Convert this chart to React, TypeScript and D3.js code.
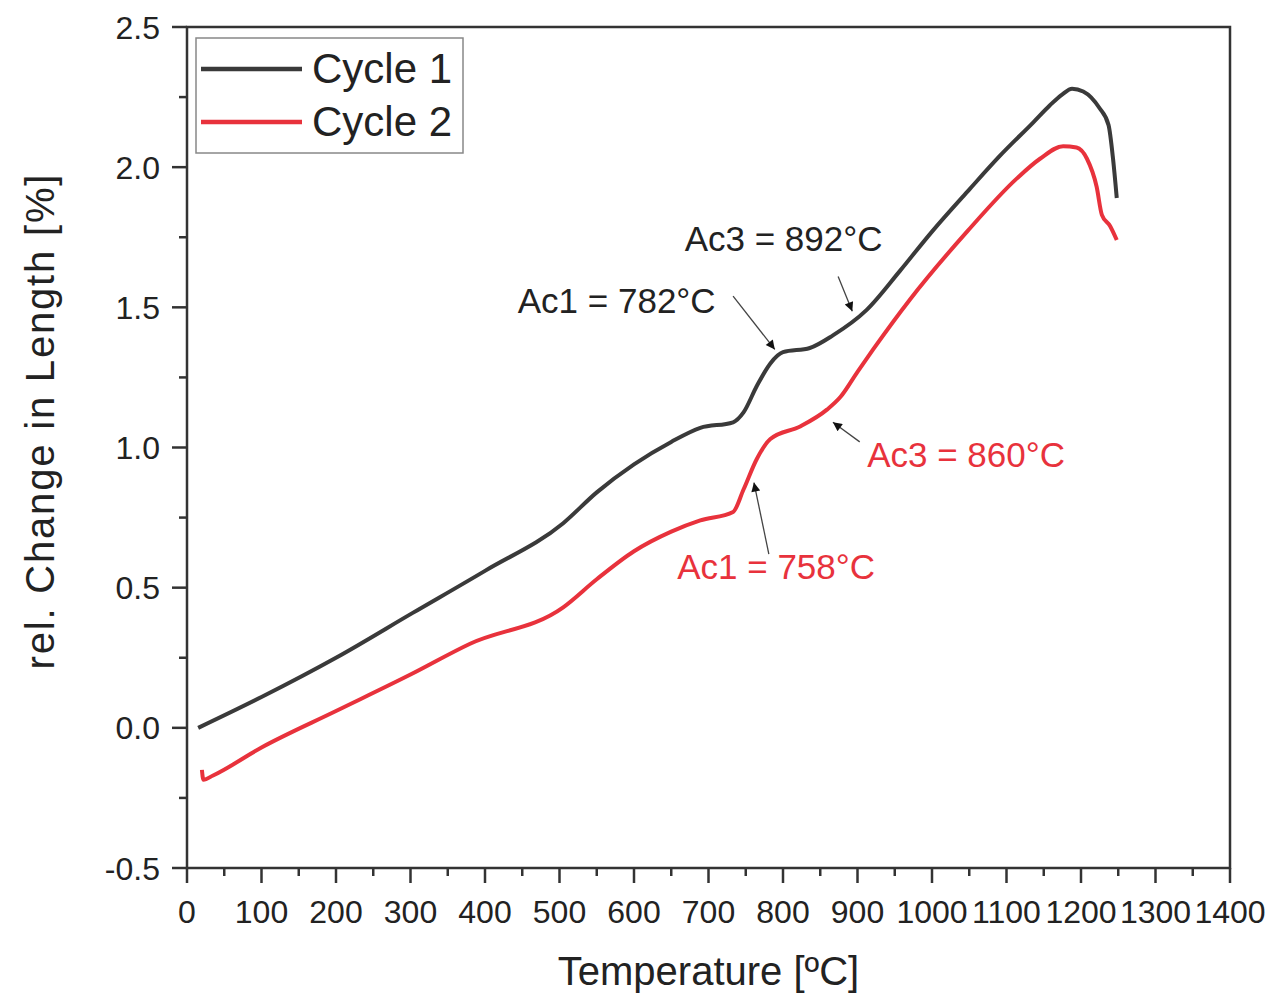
import React, { useEffect, useRef } from 'react';
import * as d3 from 'd3';

const WIDTH = 1276;
const HEIGHT = 1003;
const MARGIN = { top: 27, right: 46, bottom: 135, left: 187 };

const FONT = '"Liberation Sans", Arial, sans-serif';
const TEXT = '#222';

// Cycle 1 (black)
const cycle1Temp = [15, 100, 200, 303, 400, 505, 550, 600, 650, 689, 733, 747, 765, 783, 800, 836, 867, 912, 957, 1000, 1050, 1091, 1136, 1158, 1175, 1188, 1203, 1225, 1237, 1243, 1248];
const cycle1Value = [0.0, 0.11, 0.25, 0.41, 0.56, 0.73, 0.84, 0.94, 1.02, 1.07, 1.09, 1.125, 1.22, 1.30, 1.34, 1.355, 1.40, 1.49, 1.63, 1.77, 1.92, 2.04, 2.16, 2.22, 2.26, 2.28, 2.27, 2.21, 2.15, 2.03, 1.89];

// Cycle 2 (red)
const cycle2Temp = [20, 22, 35, 100, 200, 300, 380, 505, 550, 600, 650, 689, 733, 747, 765, 783, 823, 859, 877, 900, 921, 971, 1047, 1114, 1145, 1176, 1194, 1208, 1221, 1228, 1239, 1248];
const cycle2Value = [-0.15, -0.185, -0.17, -0.07, 0.06, 0.19, 0.30, 0.43, 0.53, 0.63, 0.70, 0.74, 0.77, 0.85, 0.96, 1.03, 1.075, 1.135, 1.18, 1.27, 1.35, 1.53, 1.77, 1.96, 2.03, 2.075, 2.07, 2.03, 1.93, 1.83, 1.79, 1.74];

const seriesNames = ['Cycle 1', 'Cycle 2'];
const seriesColors = ['#3a3a3a', '#e8323c'];

const xTicks = [0, 100, 200, 300, 400, 500, 600, 700, 800, 900, 1000, 1100, 1200, 1300, 1400];
const yTicks = [-0.5, 0.0, 0.5, 1.0, 1.5, 2.0, 2.5];

// annotations: label position (temp, value) and arrow from -> to
const noteText = ['Ac1 = 782°C', 'Ac3 = 892°C', 'Ac1 = 758°C', 'Ac3 = 860°C'];
const noteColor = ['#222', '#222', '#e8323c', '#e8323c'];
const noteAt = [[444, 1.48], [668, 1.70], [658, 0.53], [913, 0.93]];
const arrowFrom = [[733, 1.54], [874, 1.61], [781, 0.62], [903, 1.02]];
const arrowTo = [[789, 1.35], [893, 1.486], [761, 0.875], [867, 1.09]];

export default function App() {
  const ref = useRef<SVGSVGElement>(null);

  useEffect(() => {
    const svg = d3.select(ref.current);
    svg.selectAll('*').remove();

    const x = d3.scaleLinear().domain([0, 1400]).range([MARGIN.left, WIDTH - MARGIN.right]);
    const y = d3.scaleLinear().domain([-0.5, 2.5]).range([HEIGHT - MARGIN.bottom, MARGIN.top]);

    const defs = svg.append('defs');
    defs.append('marker')
      .attr('id', 'arrow')
      .attr('viewBox', '0 0 10 10')
      .attr('refX', 10)
      .attr('refY', 5)
      .attr('markerWidth', 14)
      .attr('markerHeight', 9)
      .attr('markerUnits', 'userSpaceOnUse')
      .attr('orient', 'auto')
      .append('path')
      .attr('d', 'M0,0 L10,5 L0,10 z')
      .attr('fill', '#111');

    // frame
    const x0 = x(0), x1 = x(1400), yb = y(-0.5), yt = y(2.5);
    svg.append('rect')
      .attr('x', x0).attr('y', yt)
      .attr('width', x1 - x0).attr('height', yb - yt)
      .attr('fill', 'none').attr('stroke', '#333').attr('stroke-width', 2.5);

    // x axis
    const xMinor = d3.range(50, 1400, 100);
    const gx = svg.append('g');
    gx.selectAll('.maj').data(xTicks).enter().append('line')
      .attr('x1', d => x(d)).attr('x2', d => x(d))
      .attr('y1', yb).attr('y2', yb + 15)
      .attr('stroke', '#333').attr('stroke-width', 2.5);
    gx.selectAll('.min').data(xMinor).enter().append('line')
      .attr('x1', d => x(d)).attr('x2', d => x(d))
      .attr('y1', yb).attr('y2', yb + 8)
      .attr('stroke', '#333').attr('stroke-width', 2.5);
    gx.selectAll('text').data(xTicks).enter().append('text')
      .attr('x', d => x(d)).attr('y', yb + 55)
      .attr('text-anchor', 'middle')
      .attr('font-family', FONT).attr('font-size', 32).attr('fill', TEXT)
      .text(d => d);

    // y axis
    const yMinor = d3.range(-0.25, 2.5, 0.5);
    const gy = svg.append('g');
    gy.selectAll('.maj').data(yTicks).enter().append('line')
      .attr('x1', x0 - 15).attr('x2', x0)
      .attr('y1', d => y(d)).attr('y2', d => y(d))
      .attr('stroke', '#333').attr('stroke-width', 2.5);
    gy.selectAll('.min').data(yMinor).enter().append('line')
      .attr('x1', x0 - 8).attr('x2', x0)
      .attr('y1', d => y(d)).attr('y2', d => y(d))
      .attr('stroke', '#333').attr('stroke-width', 2.5);
    gy.selectAll('text').data(yTicks).enter().append('text')
      .attr('x', x0 - 27).attr('y', d => y(d) + 11.5)
      .attr('text-anchor', 'end')
      .attr('font-family', FONT).attr('font-size', 32).attr('fill', TEXT)
      .text(d => d.toFixed(1));

    // axis titles
    svg.append('text')
      .attr('x', (x0 + x1) / 2).attr('y', 985)
      .attr('text-anchor', 'middle')
      .attr('font-family', FONT).attr('font-size', 40).attr('fill', TEXT)
      .text('Temperature [ºC]');
    svg.append('text')
      .attr('transform', `translate(54, 422) rotate(-90)`)
      .attr('text-anchor', 'middle')
      .attr('font-family', FONT).attr('font-size', 40).attr('fill', TEXT)
      .attr('textLength', 495)
      .text('rel. Change in Length [%]');

    // curves
    const line = d3.line<[number, number]>()
      .x(d => x(d[0]))
      .y(d => y(d[1]))
      .curve(d3.curveMonotoneX);
    const series = [
      cycle1Temp.map((t, i) => [t, cycle1Value[i]] as [number, number]),
      cycle2Temp.map((t, i) => [t, cycle2Value[i]] as [number, number]),
    ];
    svg.selectAll('.series').data(series).enter().append('path')
      .attr('d', d => line(d))
      .attr('fill', 'none')
      .attr('stroke', (_, i) => seriesColors[i])
      .attr('stroke-width', 4)
      .attr('stroke-linejoin', 'round');

    // annotations
    svg.selectAll('.arrow').data(noteText).enter().append('line')
      .attr('x1', (_, i) => x(arrowFrom[i][0])).attr('y1', (_, i) => y(arrowFrom[i][1]))
      .attr('x2', (_, i) => x(arrowTo[i][0])).attr('y2', (_, i) => y(arrowTo[i][1]))
      .attr('stroke', '#444').attr('stroke-width', 1.3)
      .attr('marker-end', 'url(#arrow)');
    svg.selectAll('.note').data(noteText).enter().append('text')
      .attr('x', (_, i) => x(noteAt[i][0])).attr('y', (_, i) => y(noteAt[i][1]))
      .attr('font-family', FONT).attr('font-size', 35)
      .attr('fill', (_, i) => noteColor[i])
      .text(d => d);

    // legend
    const lg = svg.append('g');
    lg.append('rect')
      .attr('x', 196).attr('y', 38).attr('width', 267).attr('height', 115)
      .attr('fill', 'white').attr('stroke', '#888').attr('stroke-width', 1.5);
    seriesNames.forEach((name, i) => {
      const cy = 69 + i * 53;
      lg.append('line')
        .attr('x1', 201).attr('x2', 302).attr('y1', cy).attr('y2', cy)
        .attr('stroke', seriesColors[i]).attr('stroke-width', 4.5);
      lg.append('text')
        .attr('x', 312).attr('y', cy + 14)
        .attr('font-family', FONT).attr('font-size', 42).attr('fill', TEXT)
        .text(name);
    });
  }, []);

  return (
    <svg
      ref={ref}
      width={WIDTH}
      height={HEIGHT}
      style={{ position: 'absolute', left: 0, top: 0, background: 'white' }}
    />
  );
}
